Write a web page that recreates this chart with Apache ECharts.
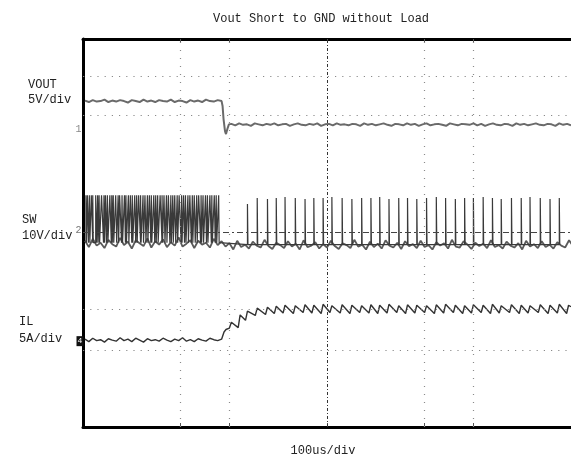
<!DOCTYPE html>
<html>
<head>
<meta charset="utf-8">
<script src="https://cdn.jsdelivr.net/npm/echarts@6/dist/echarts.min.js"></script>
<style>
html,body{margin:0;padding:0;background:#fff;}
#chart{width:571px;height:465px;}
</style>
</head>
<body>
<div id="chart"></div>
<script>
// scope screen in divisions: x 0..10 (100us/div), y 0..8 (bottom = 0)
var sampleStep = 0.08
var sampleStart = 0.04

// grid that is still visible on the scan
var gridCols = [2, 3, 7, 8]
var centerCol = 5
var gridRows = [7.24, 6.43, 2.43, 1.59]
var centerRow = 4.02
var tickCols = [2, 3, 5, 7, 8]

// channel ground markers
var groundLevels = [6.14, 4.06, 1.77]

// VOUT (ch1)
var voutHigh = [6.73,6.70,6.74,6.71,6.72,6.75,6.70,6.73,6.71,6.74,
  6.72,6.69,6.74,6.72,6.70,6.75,6.71,6.73,6.70,6.74,
  6.72,6.71,6.75,6.70,6.73,6.72,6.69,6.74,6.71,6.73,
  6.70,6.75,6.72,6.71,6.74,6.72]
var voutEdge = [[2.86,6.62],[2.88,6.35],[2.91,6.10],[2.93,6.04],[2.96,6.15],[2.99,6.24]]
var voutLowStart = 3.04
var voutLow = [6.25,6.22,6.26,6.23,6.24,6.21,6.26,6.24,6.22,6.25,
  6.23,6.26,6.22,6.24,6.25,6.21,6.24,6.26,6.23,6.22,
  6.25,6.23,6.26,6.21,6.24,6.25,6.22,6.26,6.23,6.24,
  6.22,6.25,6.24,6.21,6.26,6.23,6.25,6.22,6.24,6.26,
  6.23,6.21,6.25,6.24,6.22,6.26,6.23,6.25,6.21,6.24,
  6.26,6.22,6.24,6.25,6.23,6.21,6.26,6.24,6.22,6.25,
  6.24,6.23,6.26,6.22,6.25,6.21,6.24,6.26,6.23,6.22,
  6.25,6.24,6.21,6.26,6.23,6.25,6.22,6.24,6.26,6.23,
  6.22,6.25,6.24,6.21,6.26,6.23,6.25,6.22]

// SW (ch2)
var swBase = [3.84,3.71,3.88,3.74,3.80,3.69,3.86,3.77,3.72,3.90,
  3.75,3.82,3.68,3.85,3.79,3.73,3.89,3.70,3.83,3.76,
  3.87,3.71,3.81,3.74,3.91,3.72,3.78,3.85,3.69,3.84,
  3.76,3.80,3.70,3.88,3.75,3.83,3.72,3.79,3.66,3.84,
  3.71,3.76,3.68,3.82,3.74,3.70,3.86,3.73,3.67,3.80,
  3.75,3.69,3.83,3.72,3.78,3.66,3.85,3.71,3.74,3.81,
  3.68,3.77,3.70,3.84,3.73,3.67,3.79,3.75,3.69,3.86,
  3.72,3.76,3.66,3.82,3.71,3.78,3.68,3.85,3.74,3.70,
  3.80,3.67,3.83,3.73,3.77,3.69,3.84,3.71,3.75,3.66,
  3.81,3.74,3.79,3.68,3.86,3.72,3.70,3.83,3.76,3.67,
  3.80,3.73,3.78,3.69,3.85,3.71,3.75,3.68,3.82,3.74,
  3.70,3.79,3.66,3.84,3.72,3.77,3.69,3.83,3.71,3.76,
  3.68,3.81,3.74,3.70,3.85,3.73]
var swDenseT = [0.06,0.09,0.13,0.17,0.20,0.26,0.30,0.33,0.38,0.43,
  0.46,0.50,0.55,0.59,0.62,0.67,0.72,0.75,0.80,0.85,
  0.88,0.93,0.97,1.01,1.06,1.10,1.14,1.18,1.23,1.27,
  1.32,1.36,1.40,1.45,1.49,1.53,1.58,1.62,1.66,1.71,
  1.75,1.80,1.84,1.88,1.93,1.97,2.02,2.06,2.10,2.15,
  2.19,2.24,2.28,2.33,2.37,2.42,2.46,2.51,2.55,2.60,
  2.64,2.69,2.73,2.78]
var swDenseW = [0.01,0.02,0.01,0.03,0.01,0.02,0.01,0.01,0.04,0.01,
  0.02,0.01,0.03,0.01,0.01,0.02,0.01,0.04,0.01,0.02,
  0.01,0.01,0.03,0.01,0.02,0.01,0.04,0.01,0.01,0.02,
  0.01,0.03,0.01,0.02,0.01,0.01,0.04,0.01,0.02,0.01,
  0.03,0.01,0.01,0.02,0.01,0.04,0.01,0.02,0.01,0.01,
  0.03,0.01,0.02,0.01,0.04,0.01,0.01,0.02,0.01,0.03,
  0.01,0.02,0.01,0.01]
var swDenseHigh = 4.78
var swDenseLow = 3.80
var swSpikeT = [3.37,3.57,3.78,3.96,4.14,4.35,4.55,4.73,4.92,5.10,
  5.31,5.51,5.71,5.90,6.08,6.27,6.47,6.65,6.84,7.04,
  7.24,7.43,7.63,7.82,8.00,8.20,8.39,8.57,8.78,8.98,
  9.16,9.37,9.57,9.76]
var swSpikeTop = [4.60,4.72,4.70,4.72,4.74,4.72,4.70,4.72,4.72,4.74,
  4.72,4.70,4.72,4.72,4.74,4.70,4.72,4.72,4.70,4.72,
  4.74,4.72,4.70,4.72,4.72,4.74,4.72,4.70,4.72,4.72,
  4.74,4.72,4.70,4.72]
var swSpikeLow = 3.76

// IL (ch4)
var ilBase = [1.81,1.76,1.83,1.78,1.80,1.75,1.82,1.79,1.77,1.84,
  1.78,1.81,1.76,1.83,1.79,1.75,1.82,1.78,1.80,1.77,
  1.83,1.79,1.76,1.81,1.78,1.84,1.77,1.80,1.76,1.82,
  1.79,1.77,1.83,1.80,1.78,1.81]
var ilEdge = [[2.86,1.84],[2.89,1.96],[2.93,2.01],[2.96,2.03]]
var ilPeakT = [3.04,3.22,3.37,3.57,3.78,3.96,4.14,4.35,4.55,4.73,
  4.92,5.10,5.31,5.51,5.71,5.90,6.08,6.27,6.47,6.65,
  6.84,7.04,7.24,7.43,7.63,7.82,8.00,8.20,8.39,8.57,
  8.78,8.98,9.16,9.37,9.57,9.76,9.95]
var ilPeakV = [2.16,2.31,2.39,2.45,2.47,2.49,2.51,2.50,2.52,2.51,
  2.53,2.50,2.52,2.51,2.50,2.52,2.51,2.53,2.50,2.52,
  2.51,2.50,2.52,2.53,2.51,2.50,2.52,2.51,2.53,2.50,
  2.52,2.51,2.50,2.52,2.51,2.53,2.51]
var ilValleyV = [2.04,2.05,2.20,2.30,2.32,2.34,2.35,2.34,2.36,2.35,
  2.34,2.36,2.35,2.34,2.36,2.35,2.34,2.35,2.36,2.34,
  2.35,2.36,2.34,2.35,2.36,2.34,2.35,2.36,2.34,2.35,
  2.36,2.34,2.35,2.36,2.34,2.35,2.34]
var ilRise = 0.04
var ilTail = [10.0, 2.48]

var monoFont = '"Liberation Mono", "DejaVu Sans Mono", monospace'

// build the traces
var voutData = voutHigh.map(function (v, i) { return [sampleStart + i * sampleStep, v] })
  .concat(voutEdge)
  .concat(voutLow.map(function (v, i) { return [voutLowStart + i * sampleStep, v] }))

var swBaseData = swBase.map(function (v, i) { return [sampleStart + i * sampleStep, v] })
var swPulseData = []
for (var i = 0; i < swDenseT.length; i++) {
  var t = swDenseT[i]
  swPulseData.push([t, swDenseLow], [t, swDenseHigh], [t + swDenseW[i], swDenseHigh], [t + swDenseW[i], swDenseLow])
}
for (var j = 0; j < swSpikeT.length; j++) {
  var s = swSpikeT[j]
  swPulseData.push([s, swSpikeLow], [s, swSpikeTop[j]], [s + 0.01, swSpikeTop[j]], [s + 0.01, swSpikeLow])
}

var ilData = ilBase.map(function (v, i) { return [sampleStart + i * sampleStep, v] }).concat(ilEdge)
for (var k = 0; k < ilPeakT.length; k++) {
  ilData.push([ilPeakT[k] - ilRise, ilValleyV[k]], [ilPeakT[k], ilPeakV[k]])
}
ilData.push(ilTail)

var gridLines = []
gridCols.forEach(function (c) {
  gridLines.push({ xAxis: c, lineStyle: { type: [1, 7], color: '#8a8a8a', width: 1.2 } })
})
gridLines.push({ xAxis: centerCol, lineStyle: { type: [3, 2, 1, 2], color: '#333', width: 1 } })
gridRows.forEach(function (r) {
  gridLines.push({ yAxis: r, lineStyle: { type: [1.2, 6], color: '#8a8a8a', width: 1.2 } })
})
gridLines.push({ yAxis: centerRow, lineStyle: { type: [6, 3, 2, 3], color: '#444', width: 1 } })

var chart = echarts.init(document.getElementById('chart'))
var frameAxis = {
  type: 'value',
  min: 0,
  max: 10,
  axisLine: { onZero: false, lineStyle: { color: '#000', width: 3 } },
  axisTick: { show: true, inside: true, length: 4, customValues: tickCols, lineStyle: { color: '#555', width: 1 } },
  axisLabel: { show: false },
  splitLine: { show: false }
}
var option = {
  backgroundColor: '#fff',
  animation: false,
  title: {
    text: 'Vout Short to GND without Load',
    left: 208,
    top: 8,
    textStyle: { fontFamily: monoFont, fontSize: 12, fontWeight: 'normal', color: '#222' }
  },
  grid: { left: 83, top: 39, width: 490, height: 388 },
  xAxis: [
    Object.assign({}, frameAxis, { position: 'bottom' }),
    Object.assign({}, frameAxis, { position: 'top' })
  ],
  yAxis: {
    type: 'value',
    min: 0,
    max: 8,
    axisLine: { show: true, onZero: false, lineStyle: { color: '#000', width: 3 } },
    axisTick: { show: false },
    axisLabel: { show: false },
    splitLine: { show: false }
  },
  graphic: [
    { type: 'text', x: 28, y: 85, style: { text: 'VOUT', font: '12px ' + monoFont, fill: '#222', verticalAlign: 'middle' } },
    { type: 'text', x: 28, y: 100, style: { text: '5V/div', font: '12px ' + monoFont, fill: '#222', verticalAlign: 'middle' } },
    { type: 'text', x: 22, y: 220, style: { text: 'SW', font: '12px ' + monoFont, fill: '#222', verticalAlign: 'middle' } },
    { type: 'text', x: 22, y: 236, style: { text: '10V/div', font: '12px ' + monoFont, fill: '#222', verticalAlign: 'middle' } },
    { type: 'text', x: 19, y: 322, style: { text: 'IL', font: '12px ' + monoFont, fill: '#222', verticalAlign: 'middle' } },
    { type: 'text', x: 19, y: 339, style: { text: '5A/div', font: '12px ' + monoFont, fill: '#222', verticalAlign: 'middle' } },
    { type: 'text', x: 323, y: 451, style: { text: '100us/div', font: '12px ' + monoFont, fill: '#222', align: 'center', verticalAlign: 'middle' } }
  ],
  series: [
    {
      name: 'grid',
      type: 'line',
      data: [],
      silent: true,
      markLine: { silent: true, symbol: 'none', label: { show: false }, data: gridLines }
    },
    {
      name: 'VOUT',
      type: 'line',
      data: voutData,
      showSymbol: false,
      symbol: 'none',
      lineStyle: { color: '#6a6a6a', width: 2 },
      markPoint: {
        symbol: 'rect', symbolSize: 1, itemStyle: { color: 'rgba(0,0,0,0)' },
        label: { show: true, position: 'left', distance: 1, formatter: '1', color: '#888', fontSize: 10, fontFamily: monoFont },
        data: [{ coord: [0, groundLevels[0]] }]
      }
    },
    {
      name: 'SW base',
      type: 'line',
      data: swBaseData,
      showSymbol: false,
      symbol: 'none',
      lineStyle: { color: '#5a5a5a', width: 1.8 }
    },
    {
      name: 'SW',
      type: 'line',
      data: swPulseData,
      showSymbol: false,
      symbol: 'none',
      lineStyle: { color: '#3a3a3a', width: 1.2 },
      markPoint: {
        symbol: 'rect', symbolSize: 1, itemStyle: { color: 'rgba(0,0,0,0)' },
        label: { show: true, position: 'left', distance: 1, formatter: '2', color: '#777', fontSize: 10, fontFamily: monoFont },
        data: [{ coord: [0, groundLevels[1]] }]
      }
    },
    {
      name: 'IL',
      type: 'line',
      data: ilData,
      showSymbol: false,
      symbol: 'none',
      lineStyle: { color: '#333', width: 1.4 },
      markPoint: {
        symbol: 'rect', symbolSize: [7, 10], symbolOffset: [-3, 0], itemStyle: { color: '#111' },
        label: { show: true, position: 'inside', formatter: '4', color: '#fff', fontSize: 8, fontFamily: monoFont },
        data: [{ coord: [0, groundLevels[2]] }]
      }
    }
  ]
}
chart.setOption(option)
</script>
</body>
</html>
